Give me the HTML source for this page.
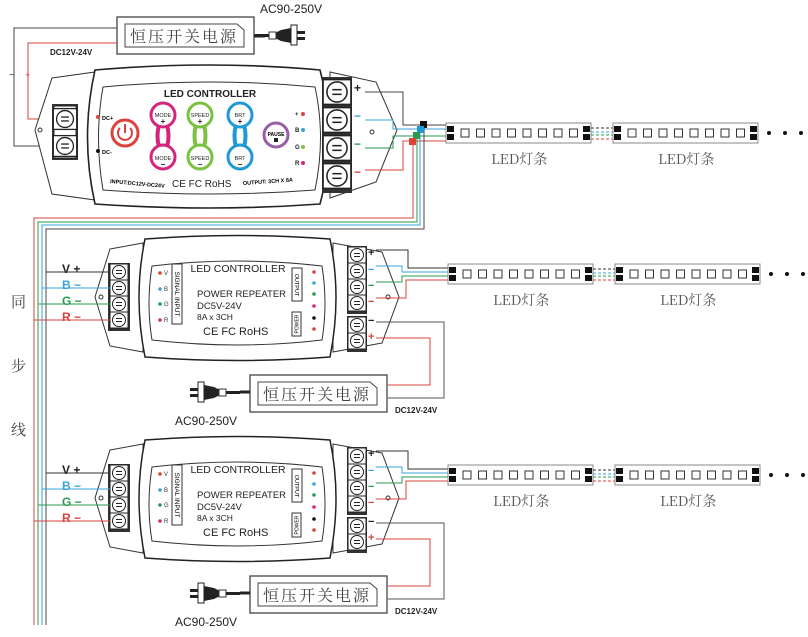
<!DOCTYPE html>
<html><head><meta charset="utf-8"><style>
html,body{margin:0;padding:0;background:#fff;width:808px;height:637px;overflow:hidden}
svg text{font-family:"Liberation Sans","Noto Sans CJK SC",sans-serif}
.cn{font-family:"Noto Serif CJK SC","Liberation Serif",serif}
</style></head><body>
<svg width="808" height="637" viewBox="0 0 808 637" xmlns="http://www.w3.org/2000/svg">
<defs>
<g id="term"><rect x="-9" y="-8" width="18" height="16" fill="#fff" stroke="#222" stroke-width="1"/><circle cx="0" cy="0" r="6.5" fill="#fff" stroke="#222"/><line x1="-3" y1="-1.5" x2="3" y2="-1.5" stroke="#222"/><line x1="-3" y1="1.5" x2="3" y2="1.5" stroke="#222"/></g>
<g id="strip">
<rect x="0" y="0" width="145" height="20" fill="#fff" stroke="#888"/>
<rect x="1" y="3" width="7" height="6" fill="#111"/><rect x="1" y="11" width="7" height="6" fill="#111"/>
<rect x="137" y="3" width="7" height="6" fill="#111"/><rect x="137" y="11" width="7" height="6" fill="#111"/>
<g fill="#fff" stroke="#333"><rect x="15" y="6" width="8" height="8"/><rect x="30.5" y="6" width="8" height="8"/><rect x="46" y="6" width="8" height="8"/><rect x="61.5" y="6" width="8" height="8"/><rect x="77" y="6" width="8" height="8"/><rect x="92.5" y="6" width="8" height="8"/><rect x="108" y="6" width="8" height="8"/><rect x="123.5" y="6" width="8" height="8"/></g>
</g>
<g id="row">
<use href="#strip" x="0" y="0"/>
<g stroke-dasharray="3,2" stroke-width="1"><line x1="145" y1="5" x2="167" y2="5" stroke="#333"/><line x1="145" y1="9" x2="167" y2="9" stroke="#3aa3d8"/><line x1="145" y1="12" x2="167" y2="12" stroke="#2a9a52"/><line x1="145" y1="16" x2="167" y2="16" stroke="#d9433b"/></g>
<use href="#strip" x="167" y="0"/>
<circle cx="323" cy="10" r="2" fill="#111"/><circle cx="339" cy="10" r="2" fill="#111"/><circle cx="355" cy="10" r="2" fill="#111"/>
<text x="45" y="41" class="cn" font-size="14" fill="#555">LED灯条</text>
<text x="212" y="41" class="cn" font-size="14" fill="#555">LED灯条</text>
</g>
<g id="psu">
<rect x="0" y="0" width="137" height="37" fill="#fff" stroke="#444" stroke-width="1.3"/>
<path d="M8 7 H120 L127 13 V30 H8 Z" fill="#fff" stroke="#444"/>
<text x="67" y="25" class="cn" font-size="16" fill="#444" text-anchor="middle" letter-spacing="2">恒压开关电源</text>
</g>
<g id="plug">
<rect x="0" y="-2" width="8" height="3" fill="#222"/><rect x="0" y="4" width="8" height="3" fill="#222"/>
<rect x="8" y="-8" width="6" height="20" fill="#fff" stroke="#222"/><path d="M14 -5 L24 -3 L30 0 V5 L24 8 L14 10 Z" fill="#222"/>
<rect x="29" y="-1" width="7" height="7" fill="#fff" stroke="#333"/><rect x="36" y="1" width="14" height="3" fill="#222"/>
</g>
<g id="rep">
<path d="M110 249 L143 243 V352 L110 346 L95 297 Z" fill="#fff" stroke="#333"/>
<path d="M333 243 L382 252 L399 297 L382 343 L333 352 Z" fill="#fff" stroke="#333"/>
<path d="M145 239 Q238 232 330 239 Q342 297 330 357 Q238 364 145 357 Q133 297 145 239 Z" fill="#fff" stroke="#222" stroke-width="1.5"/>
<path d="M152 266 Q238 256 322 266 Q328 304 322 340 Q238 350 152 340 Q146 304 152 266 Z" fill="#fff" stroke="#333"/>
<circle cx="101" cy="297" r="2" fill="none" stroke="#333"/><circle cx="388" cy="297" r="2" fill="none" stroke="#333"/>
<rect x="108" y="263" width="22" height="68" fill="#333"/>
<use href="#term" x="119" y="272"/><use href="#term" x="119" y="288"/><use href="#term" x="119" y="304"/><use href="#term" x="119" y="320"/>
<rect x="347" y="246" width="20" height="68" fill="#333"/>
<use href="#term" x="357" y="255"/><use href="#term" x="357" y="271"/><use href="#term" x="357" y="287"/><use href="#term" x="357" y="303"/>
<rect x="347" y="316" width="20" height="36" fill="#333"/>
<use href="#term" x="357" y="325"/><use href="#term" x="357" y="341"/>
<text x="238" y="272" font-size="10.5" text-anchor="middle" fill="#222">LED CONTROLLER</text>
<text x="197" y="297" font-size="9.5" fill="#222">POWER REPEATER</text>
<text x="197" y="309" font-size="9.5" fill="#222">DC5V-24V</text>
<text x="197" y="320" font-size="8.5" fill="#222">8A x 3CH</text>
<text x="203" y="335" font-size="11" fill="#222">CE FC RoHS</text>
<rect x="172" y="264" width="10" height="60" fill="#fff" stroke="#333"/>
<text x="177" y="294" font-size="6.5" transform="rotate(90 177 294)" text-anchor="middle" dy="2">SIGNAL INPUT</text>
<g font-size="6" fill="#333"><text x="164" y="275">V</text><text x="164" y="291">B</text><text x="164" y="306">G</text><text x="164" y="322">R</text></g>
<circle cx="160" cy="273" r="1.8" fill="#d9433b"/><circle cx="160" cy="289" r="1.8" fill="#3aa3d8"/><circle cx="160" cy="304" r="1.8" fill="#2a9a52"/><circle cx="160" cy="320" r="1.8" fill="#d4267f"/>
<rect x="292" y="268" width="10" height="33" fill="#fff" stroke="#333"/>
<text x="297" y="285" font-size="5.5" transform="rotate(90 297 285)" text-anchor="middle" dy="2">OUTPUT</text>
<rect x="292" y="312" width="9" height="24" fill="#fff" stroke="#333"/>
<text x="296.5" y="324" font-size="5" transform="rotate(-90 296.5 324)" text-anchor="middle" dy="2">POWER</text>
<circle cx="314" cy="272" r="1.8" fill="#d9433b"/><circle cx="314" cy="283" r="1.8" fill="#3aa3d8"/><circle cx="314" cy="294" r="1.8" fill="#2a9a52"/><circle cx="314" cy="306" r="1.8" fill="#d4267f"/><circle cx="314" cy="318" r="1.8" fill="#111"/><circle cx="314" cy="329" r="1.8" fill="#d9433b"/>
<g font-size="12" font-weight="bold"><text x="62" y="273" fill="#222">V +</text><text x="62" y="289" fill="#3aa3d8">B −</text><text x="62" y="305" fill="#2a9a52">G −</text><text x="62" y="321" fill="#d9433b">R −</text></g>
<g font-size="11" font-weight="bold"><text x="368" y="256" fill="#222">+</text><text x="368" y="273" fill="#3aa3d8">−</text><text x="368" y="289" fill="#2a9a52">−</text><text x="368" y="305" fill="#d9433b">−</text><text x="368" y="324" fill="#222">−</text><text x="368" y="340" fill="#d9433b">+</text></g>
<line x1="46" y1="272" x2="110" y2="272" stroke="#333"/><line x1="42" y1="288" x2="110" y2="288" stroke="#3aa3d8"/><line x1="38" y1="304" x2="110" y2="304" stroke="#2a9a52"/><line x1="34" y1="320" x2="110" y2="320" stroke="#d9433b"/>
<polyline points="376,250 408,250 408,268 448,268" fill="none" stroke="#333"/>
<polyline points="376,266 402,266 402,272 448,272" fill="none" stroke="#3aa3d8"/>
<polyline points="376,282 402,282 402,276 448,276" fill="none" stroke="#2a9a52"/>
<polyline points="376,298 406,298 406,280 448,280" fill="none" stroke="#d9433b"/>
<use href="#row" x="448" y="264"/>
<polyline points="376,322 444,322 444,398 388,398" fill="none" stroke="#555"/>
<polyline points="376,338 430,338 430,385 388,385" fill="none" stroke="#d9433b"/>
<use href="#psu" x="250" y="375"/>
<use href="#plug" x="190" y="390"/>
<line x1="240" y1="392" x2="250" y2="392" stroke="#222" stroke-width="3"/>
<text x="175" y="425" font-size="12" fill="#222">AC90-250V</text>
<text x="395" y="413" font-size="8" font-weight="bold" fill="#222">DC12V-24V</text>
</g>
</defs>

<use href="#psu" x="117" y="17"/>
<line x1="254" y1="36" x2="265" y2="36" stroke="#222" stroke-width="3"/>
<g transform="translate(305,36) scale(-1,1)"><use href="#plug" x="0" y="-3"/></g>
<text x="260" y="13" font-size="12" fill="#222">AC90-250V</text>
<text x="50" y="55" font-size="8" font-weight="bold" fill="#222">DC12V-24V</text>
<polyline points="117,28 14,28 14,146 55,146" fill="none" stroke="#444"/>
<polyline points="117,43 28,43 28,119 55,119" fill="none" stroke="#d9433b"/>
<text x="9" y="78" font-size="10" fill="#333">−</text><text x="25" y="78" font-size="9" fill="#d9433b">+</text>

<path d="M52 78 L95 72 V200 L52 194 L35 130 Z" fill="#fff" stroke="#333"/>
<path d="M330 72 L376 82 L397 130 L376 182 L330 198 Z" fill="#fff" stroke="#333"/>
<path d="M95 70 Q210 60 320 70 Q338 137 320 204 Q210 212 95 204 Q80 137 95 70 Z" fill="#fff" stroke="#222" stroke-width="1.6"/>
<path d="M103 87 Q210 77 315 87 Q326 137 315 190 Q210 198 103 190 Q94 137 103 87 Z" fill="#fff" stroke="#333"/>
<circle cx="40" cy="130" r="2" fill="none" stroke="#333"/><circle cx="372" cy="132" r="2" fill="none" stroke="#333"/>
<rect x="52" y="104" width="26" height="56" fill="#333"/>
<rect x="54" y="106" width="22" height="52" fill="#fff" stroke="#222"/>
<g transform="translate(65,119) scale(1.3)"><use href="#term"/></g>
<g transform="translate(65,146) scale(1.3)"><use href="#term"/></g>
<rect x="322" y="77" width="30" height="116" fill="#333"/>
<g transform="translate(337,92) scale(1.55)"><use href="#term"/></g>
<g transform="translate(337,120) scale(1.55)"><use href="#term"/></g>
<g transform="translate(337,148) scale(1.55)"><use href="#term"/></g>
<g transform="translate(337,176) scale(1.55)"><use href="#term"/></g>
<text x="210" y="97" font-size="10" font-weight="bold" text-anchor="middle" fill="#222">LED CONTROLLER</text>
<circle cx="98" cy="117" r="2" fill="#d9433b"/><text x="102" y="120" font-size="5.5" font-weight="bold">DC+</text>
<circle cx="98" cy="151" r="2" fill="#111"/><text x="102" y="154" font-size="5.5" font-weight="bold">DC-</text>
<circle cx="125" cy="133" r="13" fill="#fff" stroke="#d9433b" stroke-width="3"/>
<path d="M120 128 A7 7 0 1 0 130 128" fill="none" stroke="#d9433b" stroke-width="2"/><line x1="125" y1="124" x2="125" y2="133" stroke="#d9433b" stroke-width="2"/>
<g fill="none" stroke-width="4">
<path d="M163 115 Q174 136 163 157" stroke="#d4267f"/><path d="M163 115 Q152 136 163 157" stroke="#d4267f"/>
<path d="M200 115 Q211 136 200 157" stroke="#7ac142"/><path d="M200 115 Q189 136 200 157" stroke="#7ac142"/>
<path d="M240 115 Q251 136 240 157" stroke="#1e9ad6"/><path d="M240 115 Q229 136 240 157" stroke="#1e9ad6"/>
</g>
<g fill="#fff" stroke-width="3">
<circle cx="163" cy="115" r="12" stroke="#d4267f"/><circle cx="163" cy="157" r="12" stroke="#d4267f"/>
<circle cx="200" cy="115" r="12" stroke="#7ac142"/><circle cx="200" cy="157" r="12" stroke="#7ac142"/>
<circle cx="240" cy="115" r="12" stroke="#1e9ad6"/><circle cx="240" cy="157" r="12" stroke="#1e9ad6"/>
</g>
<g font-size="5.5" text-anchor="middle" fill="#222">
<text x="163" y="117">MODE</text><text x="163" y="160">MODE</text>
<text x="200" y="117">SPEED</text><text x="200" y="160">SPEED</text>
<text x="240" y="117">BRT</text><text x="240" y="160">BRT</text>
<text x="163" y="124" font-size="8" font-weight="bold">+</text><text x="200" y="124" font-size="8" font-weight="bold">+</text><text x="240" y="124" font-size="8" font-weight="bold">+</text>
<text x="163" y="167" font-size="8" font-weight="bold">−</text><text x="200" y="167" font-size="8" font-weight="bold">−</text><text x="240" y="167" font-size="8" font-weight="bold">−</text>
</g>
<circle cx="276" cy="135" r="12" fill="#fff" stroke="#9b5fa8" stroke-width="3"/>
<text x="276" y="136" font-size="5" font-weight="bold" text-anchor="middle">PAUSE</text><rect x="274" y="138" width="4" height="4" fill="#222"/>
<g font-size="6" font-weight="bold" fill="#222"><text x="295" y="116">+</text><text x="295" y="132">B</text><text x="295" y="149">G</text><text x="295" y="165">R</text></g>
<circle cx="303" cy="114" r="2" fill="#d9433b"/><circle cx="303" cy="130" r="2" fill="#3aa3d8"/><circle cx="303" cy="147" r="2" fill="#7ac142"/><circle cx="303" cy="163" r="2" fill="#d4267f"/>
<text x="110" y="183" font-size="5.5" font-weight="bold" transform="rotate(5 110 183)">INPUT:DC12V-DC24V</text>
<text x="172" y="187" font-size="10" fill="#222">CE FC RoHS</text>
<text x="243" y="185" font-size="5.5" font-weight="bold" transform="rotate(-4 243 185)">OUTPUT: 3CH X 8A</text>
<g font-size="12" font-weight="bold"><text x="354" y="92" fill="#222">+</text><text x="354" y="120" fill="#3aa3d8">−</text><text x="354" y="148" fill="#2a9a52">−</text><text x="354" y="176" fill="#d9433b">−</text></g>
<polyline points="365,92 403,92 403,125 448,125" fill="none" stroke="#444"/>
<polyline points="365,120 393,120 393,129 448,129" fill="none" stroke="#3aa3d8"/>
<polyline points="365,148 393,148 393,136 448,136" fill="none" stroke="#2a9a52"/>
<polyline points="365,170 403,170 403,141 448,141" fill="none" stroke="#d9433b"/>
<use href="#row" x="446" y="123"/>
<polyline points="424,125 424,229 46,229 46,625" fill="none" stroke="#444"/>
<polyline points="420,129 420,225 42,225 42,625" fill="none" stroke="#3aa3d8"/>
<polyline points="417,136 417,222 38,222 38,625" fill="none" stroke="#2a9a52"/>
<polyline points="413,141 413,218 34,218 34,625" fill="none" stroke="#d9433b"/>
<rect x="420" y="121" width="7" height="7" fill="#111"/><rect x="417" y="126" width="7" height="7" fill="#1e9ad6"/><rect x="413" y="132" width="7" height="7" fill="#2a9a52"/><rect x="409" y="138" width="7" height="7" fill="#d9433b"/>
<text x="11" y="307" class="cn" font-size="15" fill="#444">同</text>
<text x="11" y="371" class="cn" font-size="15" fill="#444">步</text>
<text x="11" y="435" class="cn" font-size="15" fill="#444">线</text>
<use href="#rep"/>
<use href="#rep" y="201"/>
</svg>
</body></html>
